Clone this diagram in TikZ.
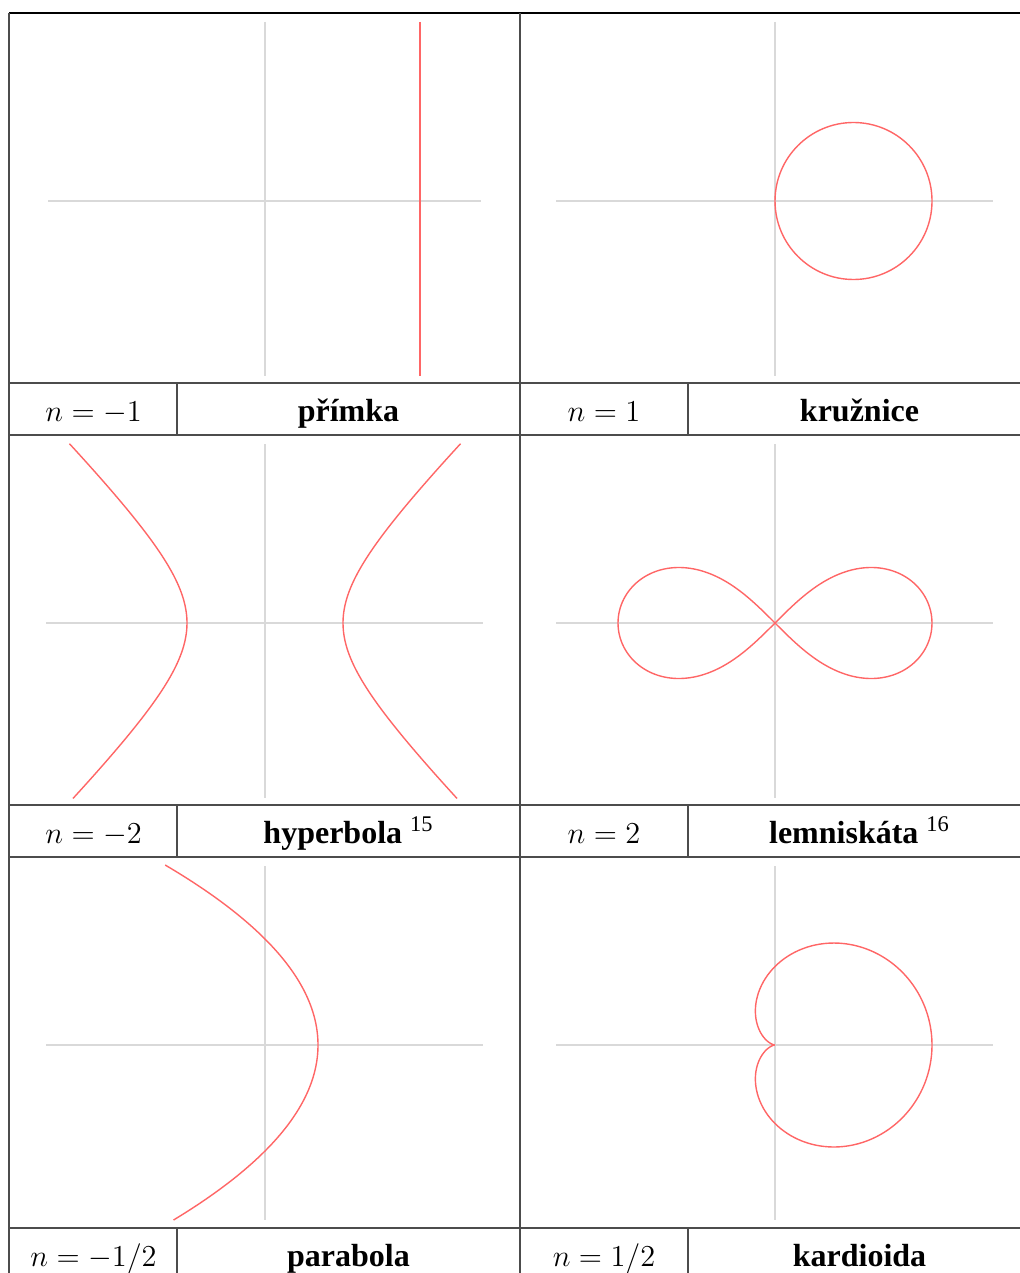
\RequirePackage{fix-cm}
\documentclass[tikz,border=0pt]{standalone}
\usepackage{amsmath}
\usepackage{fontspec}
\setmainfont{Liberation Serif}
\usepackage{xcolor}

\begin{document}
\begin{tikzpicture}[x=0.5pt, y=-0.5pt,
    axisline/.style={black!15, line width=1pt},
    curve/.style={red!60, line width=0.7pt},
    tabline/.style={black!70, line width=0.7pt},
    mathlabel/.style={anchor=base, font=\fontsize{15.2}{18}\selectfont},
    namelabel/.style={anchor=base, font=\fontsize{16}{19}\selectfont\bfseries}]
      \useasboundingbox (0,0) rectangle (1020,1273);

      % Table frame
      \draw[black, line width=1.2pt] (9,13) -- (1020,13);
      \draw[tabline] (9,13) -- (9,1273);
      \draw[tabline] (520,13) -- (520,1273);
      \foreach \y in {383,435,805,857,1228} {
          \draw[tabline] (9,\y) -- (1020,\y);
        }
      \foreach \y/\h in {383/435,805/857,1228/1273} {
          \draw[tabline] (177,\y) -- (177,\h);
          \draw[tabline] (688,\y) -- (688,\h);
        }

      % Axes
      \foreach \oy/\xa/\xb in {201/48/481,623/46/483,1045/46/483} {
          \draw[axisline] (\xa,\oy) -- (\xb,\oy);
          \draw[axisline] (556,\oy) -- (993,\oy);
          \draw[axisline] (265,\oy-179) -- (265,\oy+175);
          \draw[axisline] (775,\oy-179) -- (775,\oy+175);
        }

      % n = -1 : line
      \draw[red!60, line width=1.2pt] (420,22) -- (420,376);

      % n = 1 : circle
      \draw[curve] (853.5,201) circle (78.5);

      % n = -2 : hyperbola
      \draw[curve] plot[domain=-1.55:1.57, samples=80, smooth, variable=\t]
          ({265+78*cosh(\t)}, {623-78*sinh(\t)});
      \draw[curve] plot[domain=-1.55:1.57, samples=80, smooth, variable=\t]
          ({265-78*cosh(\t)}, {623-78*sinh(\t)});

      % n = 2 : lemniscate
      \draw[curve] plot[domain=0:360, samples=181, smooth, variable=\t]
          ({775+157*cos(\t)/(1+sin(\t)^2)}, {623-157*sin(\t)*cos(\t)/(1+sin(\t)^2)}) -- cycle;

      % n = -1/2 : parabola
      \draw[curve] plot[domain=-18:17.5, samples=80, smooth, variable=\t]
          ({318-\t*\t/2.12}, {1045+10*\t});

      % n = 1/2 : cardioid
      \draw[curve] plot[domain=0:360, samples=181, smooth, variable=\t]
          ({775+78.5*(1+cos(\t))*cos(\t)}, {1045-78.5*(1+cos(\t))*sin(\t)});

      % Labels
      \node[mathlabel] (m1) at (93.5,421) {$n=-1$};
      \node[namelabel] (t1) at (348.5,421) {přímka};
      \node[mathlabel] (m2) at (604,421) {$n=1$};
      \node[namelabel] (t2) at (859.5,421) {kružnice};
      \node[mathlabel] (m3) at (93.5,843) {$n=-2$};
      \node[namelabel] (t3) at (348.5,843) {hyperbola {\normalfont\textsuperscript{15}}};
      \node[mathlabel] (m4) at (604,843) {$n=2$};
      \node[namelabel] (t4) at (859.5,843) {lemniskáta {\normalfont\textsuperscript{16}}};
      \node[mathlabel] (m5) at (93.5,1266) {$n=-1/2$};
      \node[namelabel] (t5) at (348.5,1266) {parabola};
      \node[mathlabel] (m6) at (604,1266) {$n=1/2$};
      \node[namelabel] (t6) at (859.5,1266) {kardioida};
    \end{tikzpicture}
\end{document}
